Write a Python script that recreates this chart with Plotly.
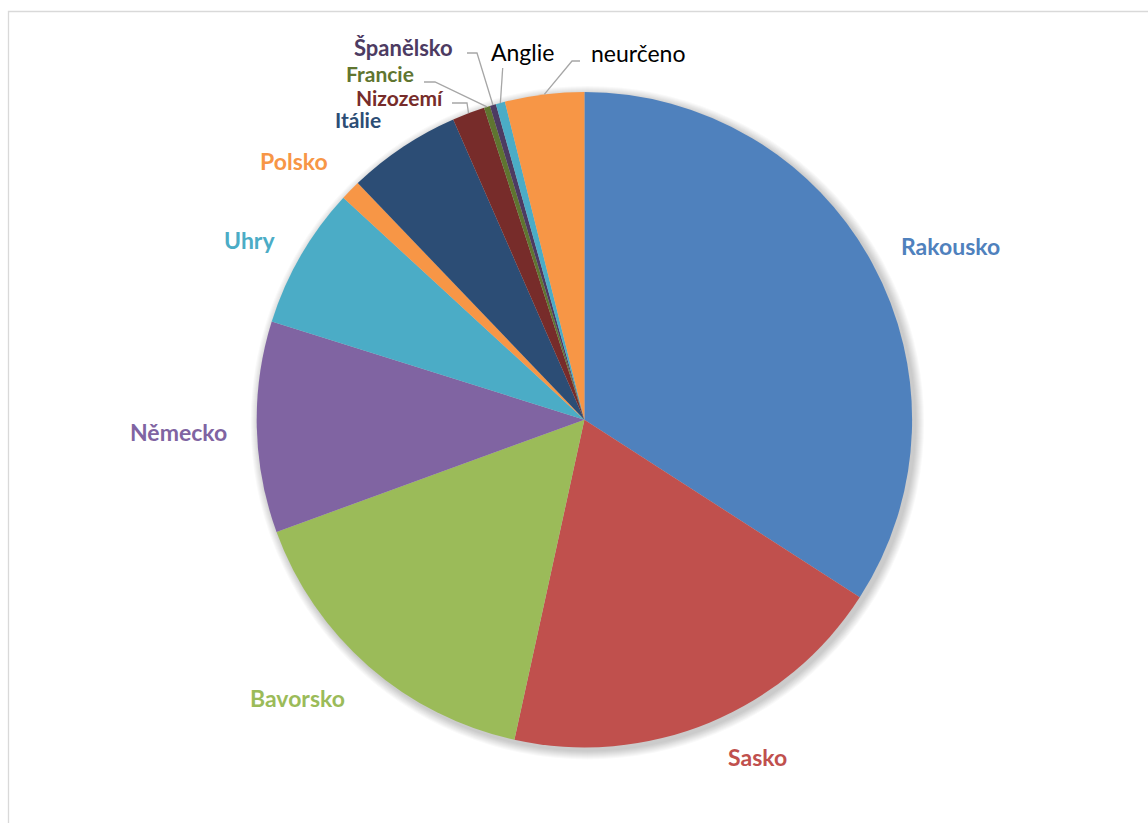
import math
import plotly.graph_objects as go

# Share of entries by region (percent)
regions = ["Rakousko", "Sasko", "Bavorsko", "Německo", "Uhry", "Polsko",
           "Itálie", "Nizozemí", "Francie", "Španělsko", "Anglie", "neurčeno"]
shares = [34.1, 19.3, 16.0, 10.4, 7.0, 1.0, 5.6, 1.6, 0.3, 0.3, 0.45, 3.9]

colors = ["#4F81BD", "#C0504D", "#9BBB59", "#8064A2", "#4BACC6", "#F79646",
          "#2C4D75", "#772C2A", "#5F7530", "#4D3B62", "#4BACC6", "#F79646"]
label_colors = ["#4F81BD", "#C0504D", "#9BBB59", "#8064A2", "#4BACC6", "#F79646",
                "#2C4D75", "#772C2A", "#5F7530", "#4D3B62", "#000000", "#000000"]
label_bold = [True] * 10 + [False, False]
label_size = [23, 23, 23, 23, 23, 23, 21, 21, 21, 22, 23, 23]

W, H = 1148, 823
CX, CY, R = 584.4, 419.7, 327.7  # pie centre and radius in pixels

# label centres (pixels) and optional leader-line elbow points
label_pos = [(950, 246), (757, 757), (297, 698), (178, 432), (250, 240),
             (294, 161), (358, 119), (400, 97.5), (380, 73.5), (403, 47.5),
             (522, 52), (638, 53)]
leaders = {
    "Nizozemí": [(452, 103), (467, 103)],
    "Francie": [(424, 82), (435, 82)],
    "Španělsko": [(467, 53), (477, 53)],
    "Anglie": [(502.7, 68)],
    "neurčeno": [(580, 61), (572, 61)],
}


def px(x):
    return x / W


def py(y):
    return 1 - y / H


fig = go.Figure()

fig.add_trace(go.Pie(
    labels=regions, values=shares, sort=False, direction="clockwise",
    rotation=0, textinfo="none", hoverinfo="label+percent",
    marker=dict(colors=colors, line=dict(width=0)),
    domain=dict(x=[px(CX - R), px(CX + R)], y=[py(CY + R), py(CY - R)]),
    showlegend=False,
))

shapes = []
# outer chart frame
shapes.append(dict(type="rect", xref="paper", yref="paper",
                   x0=px(8.5), y0=py(H + 20), x1=px(W + 20), y1=py(11.5),
                   line=dict(color="#D9D9D9", width=1.3), layer="below"))
# soft drop shadow behind the pie
for i in range(9, 0, -1):
    rr = R + i * 1.0
    shapes.append(dict(type="circle", xref="paper", yref="paper",
                       x0=px(CX + 3 - rr), x1=px(CX + 3 + rr),
                       y0=py(CY + 3 + rr), y1=py(CY + 3 - rr),
                       fillcolor="rgba(0,0,0,0.022)", line=dict(width=0),
                       layer="below"))

# leader lines from slice midpoints on the rim to the labels
total = sum(shares)
cum = 0.0
for name, v in zip(regions, shares):
    mid = (cum + v / 2) / total * 2 * math.pi
    cum += v
    if name not in leaders:
        continue
    ex = CX + R * math.sin(mid)
    ey = CY - R * math.cos(mid)
    pts = leaders[name] + [(ex, ey)]
    path = "M " + " L ".join(f"{px(x):.5f},{py(y):.5f}" for x, y in pts)
    shapes.append(dict(type="path", xref="paper", yref="paper", path=path,
                       line=dict(color="#A6A6A6", width=1.3)))

annotations = []
for name, (lx, ly), c, b, s in zip(regions, label_pos, label_colors,
                                   label_bold, label_size):
    annotations.append(dict(
        x=px(lx), y=py(ly), xref="paper", yref="paper",
        text=f"<b>{name}</b>" if b else name, showarrow=False,
        xanchor="center", yanchor="middle", borderpad=0,
        font=dict(family="Lato, Carlito, Open Sans, sans-serif", size=s, color=c),
    ))

fig.update_layout(
    width=W, height=H, margin=dict(l=0, r=0, t=0, b=0),
    paper_bgcolor="white", plot_bgcolor="white",
    shapes=shapes, annotations=annotations,
)

fig.write_html("out.html")
